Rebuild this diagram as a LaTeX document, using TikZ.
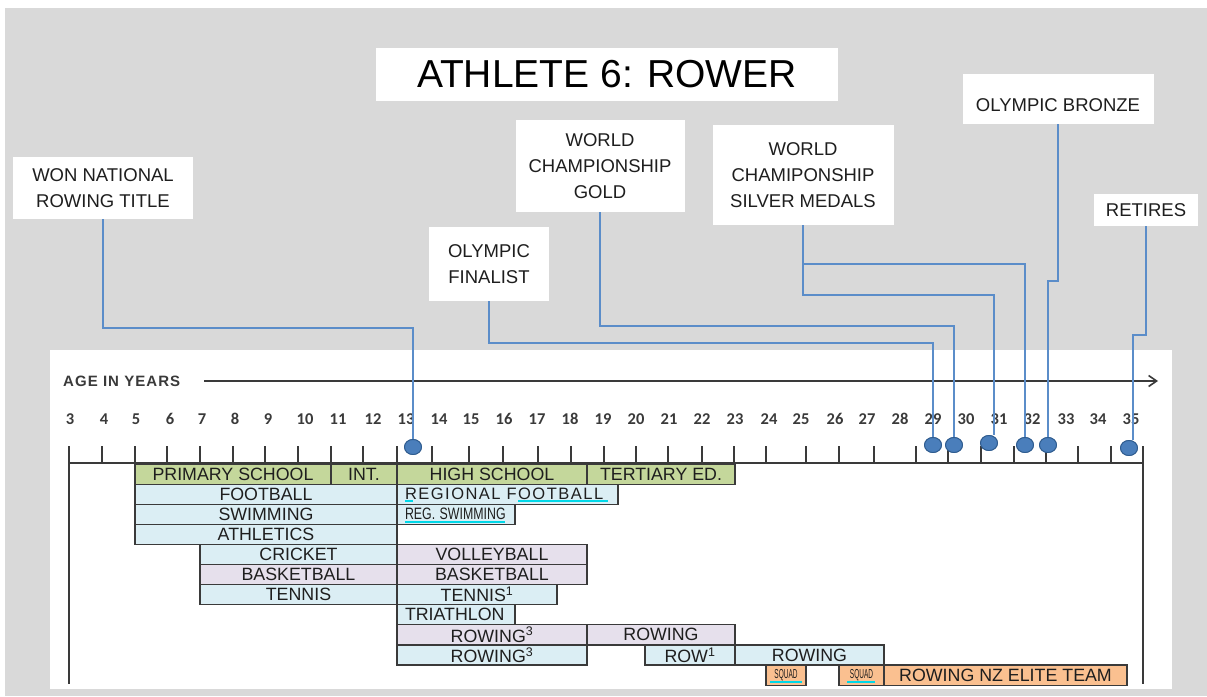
\documentclass[tikz,border=0pt]{standalone}
\usepackage{fontspec}
\setmainfont{Liberation Sans}
\newfontfamily\numfont{Carlito}
\usetikzlibrary{shapes.geometric,arrows.meta}
\definecolor{bggray}{HTML}{D9D9D9}
\definecolor{conncol}{HTML}{5B8DC9}
\definecolor{dotfill}{HTML}{4A7EBB}
\definecolor{dotedge}{HTML}{2F5C8F}
\definecolor{bord}{HTML}{3A3A3A}
\definecolor{txt}{HTML}{1E1E1E}
\definecolor{greenf}{HTML}{C4D79B}
\definecolor{bluef}{HTML}{DBEEF4}
\definecolor{lavf}{HTML}{E6E0EC}
\definecolor{orangef}{HTML}{FAC090}
\definecolor{axiscol}{HTML}{3A3A3A}
\definecolor{squig}{HTML}{00D8E8}
\newcommand\mkbar[6]{%
  \node[barbox, fill=#5, minimum width={(#3-#2)*1pt}] (#1) at ({(#2+#3)/2},{474.05+20.1*(#4-1)}) {#6};}
\newcommand\mkbarl[6]{%
  \node[barbox, fill=#5, minimum width={(#3-#2)*1pt}, text width={(#3-#2-16)*1pt}, inner xsep=8pt, align=left] (#1) at ({(#2+#3)/2},{474.05+20.1*(#4-1)}) {#6};}
\begin{document}
\begin{tikzpicture}[x=1pt,y=-1pt,
  lab/.style={fill=white, inner sep=0pt, align=center, text=txt, font=\fontsize{18.5}{26}\selectfont},
  barbox/.style={draw=bord, line width=1.2pt, inner sep=0pt, minimum height=20.1pt, text=txt, font=\fontsize{17.8}{20}\selectfont},
  connector/.style={draw=conncol, line width=1.3pt},
  evdot/.style={ellipse, fill=dotfill, draw=dotedge, line width=0.9pt, minimum width=17pt, minimum height=15pt, inner sep=0pt},
  tick/.style={draw=axiscol, line width=1.5pt},
  squiggle/.style={draw=squig, line width=2pt},
  agenum/.style={text=axiscol, font=\numfont\bfseries\fontsize{16.5}{18}\selectfont, inner sep=0pt}
]
\useasboundingbox (0,0) rectangle (1207,696);
\fill[white] (0,0) rectangle (1207,696);
\fill[bggray] (5,8) rectangle (1207,696);
\fill[white] (50,350) rectangle (1172,689);

% title and labels
\node[fill=white, inner sep=0pt, minimum width=462pt, minimum height=53pt, font=\fontsize{39}{44}\selectfont] (title) at (607,74.5) {ATHLETE 6: ROWER};
\node[lab, minimum width=180pt, minimum height=62pt] (won) at (103,188) {WON NATIONAL\\ROWING TITLE};
\node[lab, minimum width=120pt, minimum height=74pt] (fin) at (489,264) {OLYMPIC\\FINALIST};
\node[lab, minimum width=169pt, minimum height=92pt] (gold) at (600,166) {WORLD\\CHAMPIONSHIP\\GOLD};
\node[lab, minimum width=181pt, minimum height=100pt] (silver) at (803,175) {WORLD\\CHAMIPONSHIP\\SILVER MEDALS};
\node[lab, minimum width=191pt, minimum height=50pt, text height=25pt, text depth=0pt] (bronze) at (1058,99) {OLYMPIC BRONZE};
\node[lab, minimum width=104pt, minimum height=32pt] (ret) at (1146,210) {RETIRES};

% axis
\node[anchor=west, inner sep=0pt, text=axiscol, font=\bfseries\fontsize{15}{16}\selectfont\addfontfeature{LetterSpace=7}] (agelab) at (63,381) {AGE IN YEARS};
\coordinate (axs) at (204,381);
\coordinate (axe) at (1158,381);
\draw[draw=axiscol, line width=1.6pt, -{Straight Barb[length=8pt,width=11pt]}] (axs) -- (axe);

\foreach \n/\xx in {3/70,4/104,5/136,6/170,7/202,8/235,9/268,10/305,11/338,12/373,13/406,14/439,15/471,16/504,17/537,18/570,19/603,20/636,21/669,22/702,23/735,24/769,25/801,26/835,27/867,28/900,29/933,30/966,31/999,32/1032,33/1066,34/1098,35/1131}
  \node[agenum] (n\n) at (\xx,419) {\n};

\foreach \xx in {102,135,167,200,233,265,298,331,363,397,432,469,503,538,571,604,636,668,702,734,766,806,839,874,916,948,981,1014,1046,1078,1111}
  \draw[tick] (\xx,446) -- (\xx,463);
\draw[tick] (69,446) -- (69,684);
\draw[tick] (1143,446) -- (1143,684);
\draw[tick] (69,463) -- (1143,463);

% bars
\mkbar{ps}{135}{331}{1}{greenf}{PRIMARY SCHOOL}
\mkbar{int}{331}{397}{1}{greenf}{INT.}
\mkbar{hs}{397}{587}{1}{greenf}{HIGH SCHOOL}
\mkbar{ter}{587}{735}{1}{greenf}{TERTIARY ED.}
\mkbar{fb}{135}{397}{2}{bluef}{FOOTBALL}
\mkbarl{rfb}{397}{618}{2}{bluef}{\fontsize{16.5}{18}\selectfont\addfontfeature{LetterSpace=9}REGIONAL FOOTBALL}
\mkbar{sw}{135}{397}{3}{bluef}{SWIMMING}
\mkbarl{rsw}{397}{515}{3}{bluef}{\fontsize{16.5}{18}\selectfont\scalebox{0.75}[1]{REG. SWIMMING}}
\mkbar{ath}{135}{397}{4}{bluef}{ATHLETICS}
\mkbar{cri}{200}{397}{5}{bluef}{CRICKET}
\mkbar{vb}{397}{587}{5}{lavf}{VOLLEYBALL}
\mkbar{bska}{200}{397}{6}{lavf}{BASKETBALL}
\mkbar{bskb}{397}{587}{6}{lavf}{BASKETBALL}
\mkbar{tena}{200}{397}{7}{bluef}{TENNIS}
\mkbar{tenb}{397}{557}{7}{bluef}{TENNIS\textsuperscript{1}}
\mkbarl{tri}{397}{515}{8}{bluef}{TRIATHLON}
\mkbar{rwa}{397}{587}{9}{lavf}{ROWING\textsuperscript{3}}
\mkbar{rwb}{587}{735}{9}{lavf}{ROWING}
\mkbar{rwc}{397}{587}{10}{bluef}{ROWING\textsuperscript{3}}
\mkbar{rwd}{645}{735}{10}{bluef}{ROW\textsuperscript{1}}
\mkbar{rwe}{735}{884}{10}{bluef}{ROWING}
\mkbar{sqa}{766}{806}{11}{orangef}{\fontsize{13}{14}\selectfont\scalebox{0.5}[1]{SQUAD}}
\mkbar{sqb}{839}{884}{11}{orangef}{\fontsize{13}{14}\selectfont\scalebox{0.5}[1]{SQUAD}}
\mkbar{elite}{884}{1127}{11}{orangef}{ROWING NZ ELITE TEAM}

% spell-check underlines
\draw[squiggle] (405,500.5) -- (413,500.5);
\draw[squiggle] (518,500.5) -- (608,500.5);
\draw[squiggle] (405,521.5) -- (505,521.5);
\draw[squiggle] (770,681.5) -- (802,681.5);
\draw[squiggle] (847,681.5) -- (875,681.5);

% events
\node[evdot] (d13) at (413,447) {};
\node[evdot] (d29) at (933,445) {};
\node[evdot] (d30) at (954,445) {};
\node[evdot] (d31) at (989,443) {};
\node[evdot] (d32) at (1025,445) {};
\node[evdot] (d325) at (1048,445) {};
\node[evdot] (d35) at (1129,448) {};

\coordinate (cw) at (413,328);
\coordinate (cf) at (933,343);
\coordinate (cg) at (954,326);
\coordinate (csa) at (1025,264);
\coordinate (csb) at (994,295);
\coordinate (cba) at (1058,281);
\coordinate (cbb) at (1048,281);
\coordinate (cra) at (1146,335);
\coordinate (crb) at (1133,335);

\draw[connector] (won.south) |- (cw) -- (d13);
\draw[connector] (fin.south) |- (cf) -- (d29);
\draw[connector] (gold.south) |- (cg) -- (d30);
\draw[connector] (silver.south) |- (csa) -- (d32);
\draw[connector] (silver.south) |- (csb) -- (csb |- d31.north);
\draw[connector] (bronze.south) -- (cba) -- (cbb) -- (d325);
\draw[connector] (ret.south) -- (cra) -- (crb) -- (crb |- d35.north);

% dots again, on top of the connectors
\foreach \d in {d13,d29,d30,d31,d32,d325,d35}
  \fill[dotfill, draw=dotedge, line width=0.9pt] (\d.center) ellipse [x radius=8.5pt, y radius=7.5pt];
\end{tikzpicture}
\end{document}
